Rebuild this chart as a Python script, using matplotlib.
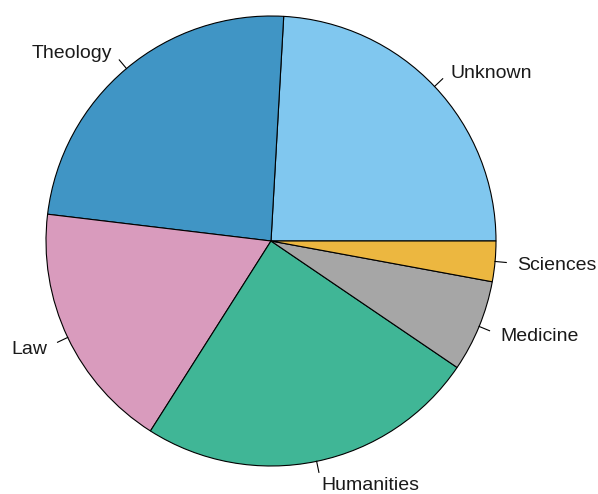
import matplotlib
matplotlib.use("Agg")
import numpy as np
import matplotlib.pyplot as plt

# faculty shares (percent)
faculties = ["Unknown", "Theology", "Law", "Humanities", "Medicine", "Sciences"]
shares = [24.1, 24.0, 17.9, 24.5, 6.6, 2.9]
colors = ["#80C7EF", "#4095C5", "#D99BBD", "#40B696", "#A6A6A6", "#ECB740"]

plt.rcParams["font.family"] = ["Liberation Sans", "DejaVu Sans"]

fig = plt.figure(figsize=(5.98, 4.94), dpi=100)
ax = fig.add_axes([0, 0, 1, 1])

R = 225
wedges, _ = ax.pie(shares, colors=colors, startangle=0, counterclock=True,
                   radius=R, center=(0, 0),
                   wedgeprops=dict(edgecolor="black", linewidth=0.8))

for w, lab in zip(wedges, faculties):
    mid = np.deg2rad((w.theta1 + w.theta2) / 2)
    c, s = np.cos(mid), np.sin(mid)
    ax.plot([R * c, 1.05 * R * c], [R * s, 1.05 * R * s], color="black", lw=0.8)
    ax.text(1.1 * R * c, 1.1 * R * s - 2, lab, fontsize=14, color="#1a1a1a",
            ha="left" if c > 0 else "right", va="center")

ax.set_xlim(-271, 598 - 271)
ax.set_ylim(-(494 - 241), 241)
ax.set_aspect("equal")
ax.axis("off")

fig.savefig("out.png", dpi=100)
